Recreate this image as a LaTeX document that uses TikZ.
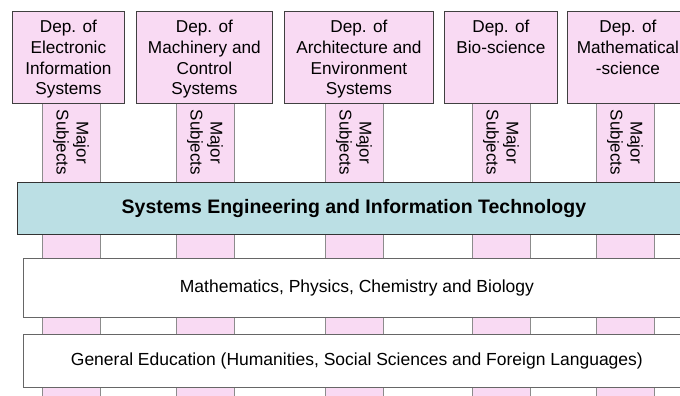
\documentclass[tikz,border=0pt]{standalone}
\usepackage{fontspec}
\setmainfont{Liberation Sans}
\usepackage{tikz}
\usetikzlibrary{positioning}
\definecolor{deppink}{RGB}{249,218,243}
\definecolor{coreblue}{RGB}{187,223,228}
\tikzset{
  depbox/.style={draw=black!75,fill=deppink,anchor=north west,
    minimum height=92pt,inner sep=0pt,line width=0.8pt},
  deptext/.style={align=center,inner sep=0pt,
    font=\fontsize{17.2}{20.7}\selectfont},
  pillar/.style={draw=black!45,fill=deppink,anchor=north west,
    minimum width=58pt,minimum height=300pt,inner sep=0pt,line width=0.8pt},
  subjtext/.style={align=center,rotate=-90,inner sep=0pt,
    font=\fontsize{17}{20}\selectfont},
  layer/.style={draw=black!60,fill=white,anchor=north west,
    minimum width=667pt,inner sep=0pt,line width=0.8pt,
    font=\fontsize{17.5}{20}\selectfont},
}

\begin{document}
\begin{tikzpicture}[x=1pt,y=-1pt]
\useasboundingbox (0,0) rectangle (680,396);
\clip (0,0) rectangle (680,396);
% pillars run behind the layers
\foreach \name/\x in {pA/42,pB/176,pC/325,pD/472,pE/596}{
  \node[pillar] (\name) at (\x,103) {};
  \node[subjtext] (\name sub) at (\x+29,142.5) {Major\\Subjects};
}
\node[layer,fill=coreblue,draw=black!80,minimum width=673pt,
  minimum height=52pt,font=\bfseries\fontsize{19.5}{22}\selectfont]
  (core) at (17,182) {Systems Engineering and Information Technology};
\node[layer,minimum height=59pt]
  (basic) at (23,258) {Mathematics, Physics, Chemistry and Biology};
\node[layer,minimum height=53pt]
  (general) at (23,334) {General Education (Humanities, Social Sciences and Foreign Languages)};
% departments
\node[depbox,minimum width=112pt] (dA) at (12,11) {};
\node[deptext,below=9pt of dA.north] (dAt) {Dep. of\\Electronic\\Information\\Systems};
\node[depbox,minimum width=136pt] (dB) at (136,11) {};
\node[deptext,below=9pt of dB.north] (dBt) {Dep. of\\Machinery and\\Control\\Systems};
\node[depbox,minimum width=149pt] (dC) at (284,11) {};
\node[deptext,below=9pt of dC.north] (dCt) {Dep. of\\Architecture and\\Environment\\Systems};
\node[depbox,minimum width=113pt] (dD) at (444,11) {};
\node[deptext,below=9pt of dD.north] (dDt) {Dep. of\\Bio-science};
\node[depbox,minimum width=121pt] (dE) at (567,11) {};
\node[deptext,below=9pt of dE.north] (dEt) {Dep. of\\Mathematical\\-science};
\end{tikzpicture}
\end{document}
